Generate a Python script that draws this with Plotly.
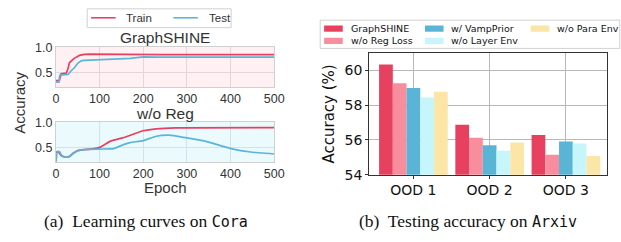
import plotly.graph_objects as go

# ---------------- data ----------------
# (a) learning curves on Cora
ep_gs_train = [0, 3, 8, 12, 24, 28, 31, 38, 43, 54, 65, 80, 150, 200, 222, 240, 500]
gs_train = [0.33, 0.33, 0.33, 0.47, 0.48, 0.58, 0.69, 0.75, 0.785, 0.84, 0.86, 0.867, 0.868, 0.867, 0.86, 0.855, 0.855]
ep_gs_test = [0, 7, 9, 28, 35, 43, 50, 58, 65, 102, 170, 200, 222, 230, 500]
gs_test = [0.30, 0.30, 0.44, 0.455, 0.53, 0.595, 0.68, 0.73, 0.74, 0.75, 0.78, 0.81, 0.815, 0.805, 0.805]

ep_nr_train = [0, 5, 12, 20, 30, 40, 50, 65, 80, 102, 125, 151, 177, 200, 230, 275, 500]
nr_train = [0.40, 0.42, 0.34, 0.31, 0.32, 0.39, 0.44, 0.46, 0.47, 0.51, 0.63, 0.69, 0.77, 0.84, 0.88, 0.90, 0.905]
ep_nr_test = [0, 4, 9, 14, 20, 30, 40, 50, 65, 100, 132, 155, 170, 200, 230, 260, 297, 342, 401, 446, 500]
nr_test = [0.20, 0.42, 0.41, 0.33, 0.31, 0.31, 0.38, 0.43, 0.46, 0.47, 0.48, 0.56, 0.60, 0.64, 0.73, 0.75, 0.70, 0.63, 0.48, 0.41, 0.37]

x_ticks_a = [0, 100, 200, 300, 400, 500]
y_ticks_a = [0.5, 1.0]
line_names = ["Train", "Test"]

# (b) testing accuracy on Arxiv
categories = ["OOD 1", "OOD 2", "OOD 3"]
series_names = ["GraphSHINE", "w/o Reg Loss", "w/ VampPrior", "w/o Layer Env", "w/o Para Env"]
graphshine = [60.34, 56.88, 56.29]
wo_reg_loss = [59.26, 56.12, 55.15]
w_vampprior = [58.99, 55.69, 55.91]
wo_layer_env = [58.45, 55.37, 55.80]
wo_para_env = [58.77, 55.85, 55.08]
y_ticks_b = [54, 56, 58, 60]

# ---------------- styles ----------------
W, H = 621, 242
RED = "#E8405F"
BLUE = "#5BB5D9"
bar_colors = ["#E8405F", "#F78D9D", "#5AB4D6", "#C6F6FB", "#FBE5A7"]
SANS = "Liberation Sans, Arial, sans-serif"
DJV = "DejaVu Sans, sans-serif"
SERIF = "Liberation Serif, Times New Roman, serif"


def px_x(p):
    return p / W


def px_y(p):
    return 1 - p / H


fig = go.Figure()

# top panel
fig.add_trace(go.Scatter(x=ep_gs_train, y=gs_train, mode="lines", name="Train",
                         line=dict(color=RED, width=1.7), xaxis="x", yaxis="y", showlegend=False))
fig.add_trace(go.Scatter(x=ep_gs_test, y=gs_test, mode="lines", name="Test",
                         line=dict(color=BLUE, width=1.7), xaxis="x", yaxis="y", showlegend=False))
# bottom panel
fig.add_trace(go.Scatter(x=ep_nr_train, y=nr_train, mode="lines", name="Train",
                         line=dict(color=RED, width=1.7, shape="spline", smoothing=0.5),
                         xaxis="x2", yaxis="y2", showlegend=False))
fig.add_trace(go.Scatter(x=ep_nr_test, y=nr_test, mode="lines", name="Test",
                         line=dict(color=BLUE, width=1.7, shape="spline", smoothing=0.5),
                         xaxis="x2", yaxis="y2", showlegend=False))

# bars
bar_values = [graphshine, wo_reg_loss, w_vampprior, wo_layer_env, wo_para_env]
for name, vals, col in zip(series_names, bar_values, bar_colors):
    fig.add_trace(go.Bar(x=categories, y=vals, name=name, marker=dict(color=col, line=dict(width=0)),
                         xaxis="x3", yaxis="y3", showlegend=False))

left_dom = [px_x(54), px_x(277)]
grid_top = "#E3D6D9"
grid_bot = "#D2E3E7"
common_x = dict(range=[0, 500], tickvals=x_ticks_a, showline=True, mirror=True, linecolor="#D0D0D0",
                linewidth=1, ticks="", tickfont=dict(family=SANS, size=12.5, color="#333"), zeroline=False)
common_y = dict(range=[0.2, 1.02], tickvals=y_ticks_a, ticktext=["0.5", "1.0"], showline=True, mirror=True,
                linecolor="#D0D0D0", linewidth=1, ticks="", tickfont=dict(family=SANS, size=12.5, color="#333"),
                zeroline=False)

fig.update_layout(
    width=W, height=H, margin=dict(l=0, r=0, t=0, b=0),
    paper_bgcolor="white", plot_bgcolor="white", showlegend=False,
    barmode="group", bargap=0.1, bargroupgap=0,
    xaxis=dict(domain=left_dom, anchor="y", gridcolor=grid_top, **common_x),
    yaxis=dict(domain=[px_y(86), px_y(43)], anchor="x", gridcolor=grid_top, **common_y),
    xaxis2=dict(domain=left_dom, anchor="y2", gridcolor=grid_bot, **common_x),
    yaxis2=dict(domain=[px_y(166), px_y(123)], anchor="x2", gridcolor=grid_bot, **common_y),
    xaxis3=dict(domain=[px_x(374), px_x(617)], anchor="y3", range=[-0.58, 2.54], showgrid=True,
                gridcolor="#B8B8B8", showline=True, mirror=True, linecolor="#333", linewidth=1,
                ticks="outside", ticklen=3, tickcolor="#333",
                tickfont=dict(family=DJV, size=14, color="#111")),
    yaxis3=dict(domain=[px_y(179), px_y(50)], anchor="x3", range=[54, 61], tickvals=y_ticks_b,
                showgrid=True, gridcolor="#B8B8B8", showline=True, mirror=True, linecolor="#333",
                linewidth=1, ticks="outside", ticklen=3, tickcolor="#333", zeroline=False,
                tickfont=dict(family=DJV, size=14, color="#111"),
                title=dict(text="Accuracy (%)", font=dict(family=DJV, size=15, color="#111"), standoff=6)),
)

# panel backgrounds
fig.add_shape(type="rect", xref="x domain", yref="y domain", x0=0, x1=1, y0=0, y1=1,
              fillcolor="#FFF0F3", line=dict(width=0), layer="below")
fig.add_shape(type="rect", xref="x2 domain", yref="y2 domain", x0=0, x1=1, y0=0, y1=1,
              fillcolor="#EBFAFD", line=dict(width=0), layer="below")

ann = []


def text_at(text, x, y, size, family=SANS, color="#333", xanchor="center", angle=0):
    ann.append(dict(text=text, x=px_x(x), y=px_y(y), xref="paper", yref="paper", showarrow=False,
                    xanchor=xanchor, yanchor="middle", textangle=angle,
                    font=dict(family=family, size=size, color=color)))


# titles & labels for (a)
text_at("GraphSHINE", 165.5, 33, 15.5)
text_at("w/o Reg", 165.5, 114, 15.5)
text_at("Accuracy", 16, 103, 15, angle=-90)
text_at("Epoch", 165.5, 193, 15)

# captions
MONO_SPAN = '<span style="font-family:DejaVu Sans Mono;font-size:15px">'
text_at('(a)  Learning curves on ' + MONO_SPAN + 'Cora</span>',
        146, 228, 17.5, family=SERIF, color="#111")
text_at('(b)  Testing accuracy on ' + MONO_SPAN + 'Arxiv</span>',
        475, 228, 17.5, family=SERIF, color="#111")

# legend for (a)
fig.add_shape(type="rect", xref="paper", yref="paper", x0=px_x(86), x1=px_x(233),
              y0=px_y(23), y1=px_y(3), fillcolor="white", line=dict(color="#D0D0D0", width=1))
for (lx, name, col) in [(90, line_names[0], RED), (174, line_names[1], BLUE)]:
    fig.add_shape(type="line", xref="paper", yref="paper", x0=px_x(lx), x1=px_x(lx + 25),
                  y0=px_y(12.5), y1=px_y(12.5), line=dict(color=col, width=1.6))
    text_at(name, lx + 34, 12.5, 11.5, xanchor="left")

# legend for (b) (matplotlib-style column layout)
fig.add_shape(type="rect", xref="paper", yref="paper", x0=px_x(324), x1=px_x(630),
              y0=px_y(45), y1=px_y(15), fillcolor="white", line=dict(color="#D0D0D0", width=1))
legend_slots = [(328, 24), (328, 37), (431, 24), (431, 37), (539, 24)]
for (lx, ly), name, col in zip(legend_slots, series_names, bar_colors):
    fig.add_shape(type="rect", xref="paper", yref="paper", x0=px_x(lx), x1=px_x(lx + 19),
                  y0=px_y(ly + 3.3), y1=px_y(ly - 3.3), fillcolor=col, line=dict(width=0))
    text_at(name, lx + 25, ly, 9.5, family=DJV, color="#111", xanchor="left")

fig.update_layout(annotations=ann)
fig.write_html("out.html", config={"displayModeBar": False},
               post_script="document.body.style.margin='0px';")
